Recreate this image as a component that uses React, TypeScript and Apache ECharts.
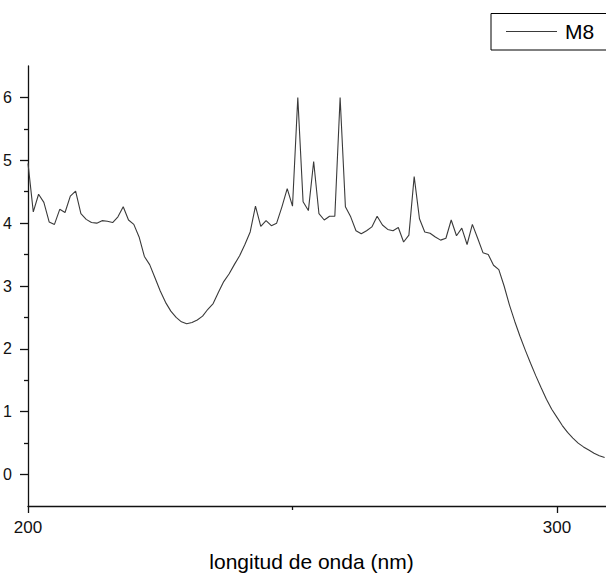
import React, { useEffect, useRef } from "react";
import * as echarts from "echarts";

const wavelengths: number[] = [];
for (let w = 200; w <= 309; w++) wavelengths.push(w);

const m8Values = [
  4.95, 4.18, 4.46, 4.33, 4.02, 3.98, 4.22, 4.17, 4.43, 4.51,
  4.15, 4.06, 4.01, 4.0, 4.04, 4.03, 4.01, 4.1, 4.26, 4.05,
  3.98, 3.78, 3.47, 3.34, 3.13, 2.92, 2.74, 2.6, 2.5, 2.43,
  2.4, 2.42, 2.46, 2.52, 2.63, 2.72, 2.9, 3.07, 3.19, 3.34,
  3.48, 3.66, 3.86, 4.27, 3.95, 4.04, 3.96, 4.0, 4.26, 4.55,
  4.27, 6.0, 4.34, 4.2, 4.98, 4.15, 4.05, 4.11, 4.11, 6.0,
  4.26, 4.1, 3.88, 3.83, 3.88, 3.94, 4.11, 3.97, 3.9, 3.88,
  3.93, 3.7, 3.81, 4.74, 4.07, 3.86, 3.84, 3.78, 3.73, 3.76,
  4.05, 3.8, 3.92, 3.66, 3.98, 3.76, 3.53, 3.5, 3.33, 3.26,
  3.0, 2.7, 2.44, 2.2, 1.98, 1.77, 1.57, 1.38, 1.2, 1.04,
  0.91, 0.78, 0.67, 0.58, 0.5, 0.44, 0.39, 0.34, 0.3, 0.27,
];

const xTickLabels = [200, 300];
const yTickLabels = [0, 1, 2, 3, 4, 5, 6];
const seriesName = "M8";
const xAxisTitle = "longitud de onda (nm)";

export default function App() {
  const ref = useRef<HTMLDivElement>(null);
  useEffect(() => {
    document.body.style.margin = "0";
    if (!ref.current) return;
    const chart = echarts.init(ref.current, undefined, { renderer: "svg" });
    const font = "'Liberation Sans', Arial, sans-serif";
    chart.setOption({
      animation: false,
      backgroundColor: "#ffffff",
      grid: { left: 28, right: 0, top: 66, bottom: 67 },
      graphic: [
        {
          type: "rect",
          shape: { x: 491, y: 13.5, width: 140, height: 36.5 },
          style: { fill: "none", stroke: "#000", lineWidth: 1 },
          silent: true,
        },
      ],
      legend: {
        show: true,
        left: 491,
        top: 13,
        padding: [8, 10, 8, 15],
        icon: "rect",
        itemWidth: 51,
        itemHeight: 1,
        itemStyle: { color: "#3a3a3a", borderWidth: 0 },
        textStyle: { fontFamily: font, fontSize: 21, color: "#000", padding: [0, 0, 0, 3] },
        data: [seriesName],
      },
      xAxis: {
        type: "value",
        min: 200,
        max: 309.26,
        interval: 100,
        name: xAxisTitle,
        nameLocation: "middle",
        nameGap: 45,
        nameTextStyle: { fontFamily: font, fontSize: 21, color: "#000", padding: [0, 11, 0, 0] },
        axisLine: { show: true, onZero: false, lineStyle: { color: "#111", width: 1.3 } },
        axisTick: { show: true, inside: false, length: 7, customValues: xTickLabels, lineStyle: { color: "#111", width: 1.3 } },
        minorTick: { show: true, splitNumber: 2, length: 4, lineStyle: { color: "#111", width: 1.3 } },
        axisLabel: {
          customValues: xTickLabels,
          margin: 13,
          fontFamily: font,
          fontSize: 17,
          color: "#111",
        },
        splitLine: { show: false },
      },
      yAxis: {
        type: "value",
        min: -0.5,
        max: 6.5,
        splitNumber: 7,
        axisLine: { show: true, onZero: false, lineStyle: { color: "#111", width: 1.3 } },
        axisTick: { show: true, inside: false, length: 8, customValues: yTickLabels, lineStyle: { color: "#111", width: 1.3 } },
        minorTick: { show: true, splitNumber: 2, length: 4, lineStyle: { color: "#111", width: 1.3 } },
        axisLabel: {
          customValues: yTickLabels,
          margin: 16,
          fontFamily: font,
          fontSize: 16,
          color: "#111",
        },
        splitLine: { show: false },
      },
      series: [
        {
          name: seriesName,
          type: "line",
          data: wavelengths.map((w, i) => [w, m8Values[i]]),
          symbol: "none",
          showSymbol: false,
          lineStyle: { color: "#3a3a3a", width: 1.1 },
          itemStyle: { color: "#3a3a3a" },
          clip: true,
        },
      ],
    });
    return () => chart.dispose();
  }, []);
  return <div ref={ref} style={{ width: 606, height: 577 }} />;
}
